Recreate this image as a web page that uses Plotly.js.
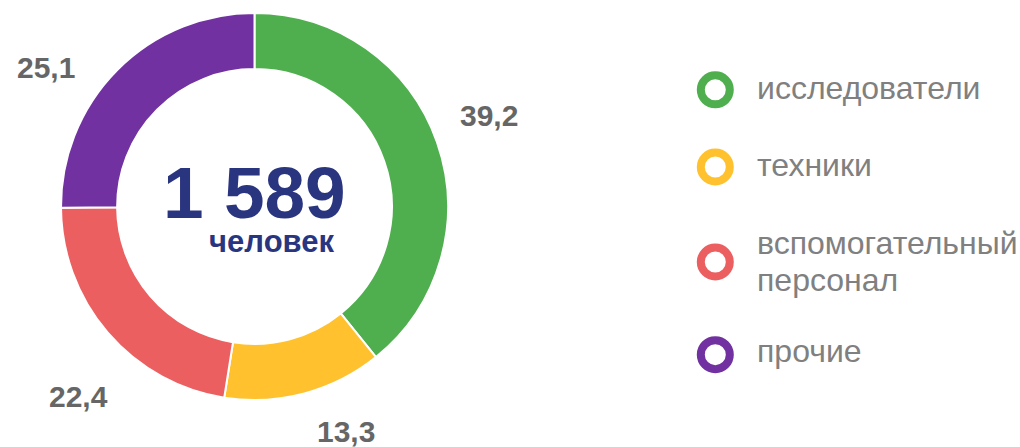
<!DOCTYPE html>
<html>
<head>
<meta charset="utf-8">
<script src="https://cdn.plot.ly/plotly-3.0.1.min.js"></script>
<style>
html,body{margin:0;padding:0;background:#fff;}
#chart{width:1020px;height:447px;}
</style>
</head>
<body>
<div id="chart"></div>
<script>
// Data
var categories = ["исследователи", "техники", "вспомогательный персонал", "прочие"];
var legendLines = [["исследователи"], ["техники"], ["вспомогательный", "персонал"], ["прочие"]];
var shares = [39.2, 13.3, 22.4, 25.1];
var totalPeople = "1 589";
var totalUnit = "человек";
var colors = ["#4FAF4F", "#FFC22E", "#EC5F61", "#7131A0"];

var W = 1020, H = 447;
function px(x){ return x / W; }
function py(y){ return 1 - y / H; }

var pie = {
  type: "pie",
  labels: categories,
  values: shares,
  sort: false,
  direction: "clockwise",
  rotation: 0,
  hole: 0.71,
  textinfo: "none",
  hoverinfo: "label+value",
  marker: { colors: colors, line: { color: "#ffffff", width: 2 } },
  domain: { x: [px(254.5 - 193.5), px(254.5 + 193.5)], y: [py(206.5 + 193.5), py(206.5 - 193.5)] },
  showlegend: false
};

function fmt(v){ return v.toFixed(1).replace(".", ","); }

var FONT = "Liberation Sans, Arial, sans-serif";

// value label placement (layout only)
var labelPos = [[489, 116], [346, 431], [78, 396], [46, 67]];
var annotations = [];
shares.forEach(function(v, i){
  annotations.push({
    xref: "paper", yref: "paper", x: px(labelPos[i][0]), y: py(labelPos[i][1]),
    xanchor: "center", yanchor: "middle", showarrow: false,
    text: "<b>" + fmt(v) + "</b>",
    font: { family: FONT, size: 30, color: "#666666" }
  });
});

// center text (one block, two lines)
annotations.push({
  xref: "paper", yref: "paper", x: px(254.3), y: py(205),
  xanchor: "center", yanchor: "middle", showarrow: false, align: "center",
  text: "<b><span style='font-size:73px'>" + totalPeople + "</span></b><br>" +
        "<b><span style='font-size:31px'>\u00a0\u00a0\u00a0\u00a0" + totalUnit + "</span></b>",
  font: { family: FONT, size: 26, color: "#2A3580" }
});

// custom legend
var ringY = [89.8, 167, 262, 354.7];
var textY = [[88], [164.5], [243, 280], [351]];
var shapes = [];
categories.forEach(function(c, i){
  shapes.push({
    type: "circle", xref: "paper", yref: "paper",
    xsizemode: "pixel", ysizemode: "pixel",
    xanchor: px(715.3), yanchor: py(ringY[i]),
    x0: -14.5, x1: 14.5, y0: -14.5, y1: 14.5,
    line: { color: colors[i], width: 8 },
    fillcolor: "rgba(0,0,0,0)"
  });
  legendLines[i].forEach(function(t, j){
    annotations.push({
      xref: "paper", yref: "paper", x: px(755), y: py(textY[i][j]),
      xanchor: "left", yanchor: "middle", showarrow: false,
      text: t,
      font: { family: FONT, size: 32, color: "#808080" }
    });
  });
});

var layout = {
  width: W, height: H,
  margin: { l: 0, r: 0, t: 0, b: 0 },
  paper_bgcolor: "#ffffff",
  plot_bgcolor: "#ffffff",
  showlegend: false,
  annotations: annotations,
  shapes: shapes
};

Plotly.newPlot("chart", [pie], layout, { displayModeBar: false, staticPlot: true });
</script>
</body>
</html>
